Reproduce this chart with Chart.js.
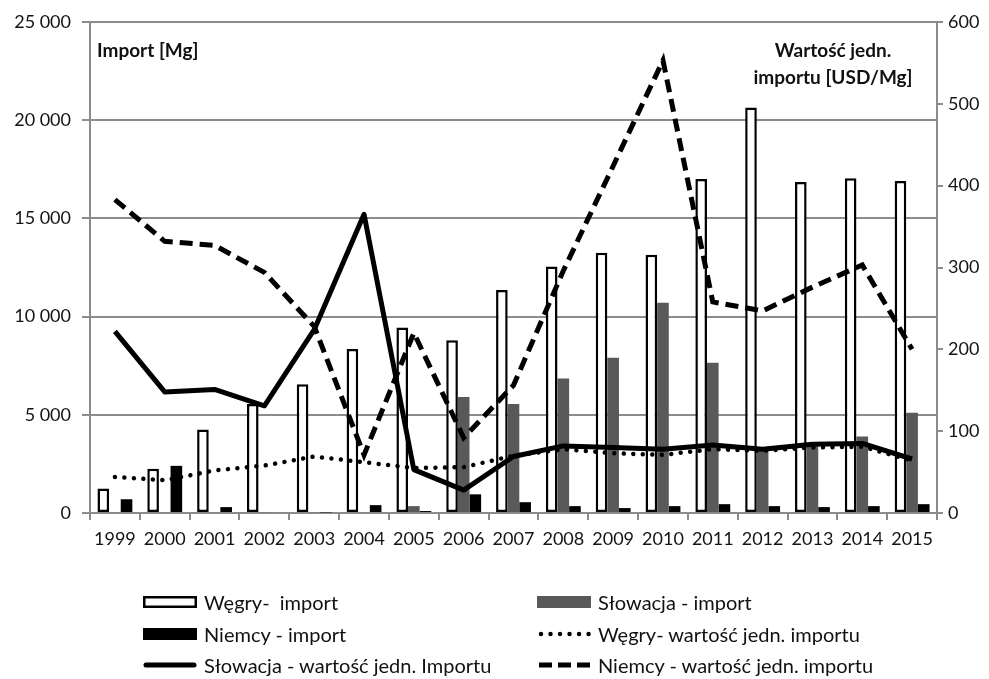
<!DOCTYPE html>
<html>
<head>
<meta charset="utf-8">
<script src="https://cdn.jsdelivr.net/npm/chart.js@4.4.1/dist/chart.umd.min.js"></script>
<style>
  html, body { margin: 0; padding: 0; background: #fff; }
  #wrap { position: relative; width: 989px; height: 679px; font-family: Lato, "Liberation Sans", sans-serif; color: #111; overflow: hidden; }
  #c { position: absolute; left: 0; top: 0; }
  .ttl { position: absolute; font-weight: bold; font-size: 19px; line-height: 27px; white-space: nowrap; }
  .leg { position: absolute; display: flex; align-items: center; font-size: 20px; white-space: pre; height: 26px; line-height: 26px; }
  .leg svg { margin-right: 7px; flex: none; }
</style>
</head>
<body>
<div id="wrap">
  <canvas id="c" width="989" height="679"></canvas>
  <div class="ttl" style="left:97px; top:36px;">Import [Mg]</div>
  <div class="ttl" style="left:733px; top:36px; width:200px; text-align:center;">Wartość jedn.<br>importu [USD/Mg]</div>
  <div id="legend"></div>
</div>
<script>
const years = ['1999','2000','2001','2002','2003','2004','2005','2006','2007','2008','2009','2010','2011','2012','2013','2014','2015'];
const wegryImport    = [1250, 2250, 4250, 5550, 6550, 8350, 9450, 8800, 11350, 12550, 13250, 13150, 17000, 20650, 16850, 17050, 16900];
const slowacjaImport = [0, 0, 0, 40, 40, 0, 350, 5900, 5550, 6850, 7900, 10700, 7650, 3200, 3400, 3900, 5100];
const niemcyImport   = [700, 2400, 300, 0, 30, 400, 100, 950, 550, 350, 250, 350, 450, 350, 300, 350, 450];
const wegryUnit      = [44, 40, 52, 58, 69, 62, 55, 56, 70, 78, 73, 71, 78, 76, 80, 81, 64];
const slowacjaUnit   = [222, 148, 151, 131, 224, 365, 53, 28, 69, 82, 80, 78, 83, 78, 84, 85, 66];
const niemcyUnit     = [383, 332, 327, 294, 228, 71, 220, 92, 156, 296, 424, 553, 258, 247, 276, 303, 200];
const leftTicks  = [0, 5000, 10000, 15000, 20000, 25000];
const rightTicks = [0, 100, 200, 300, 400, 500, 600];

const seriesNames = {
  wI: 'Węgry-  import', sI: 'Słowacja - import', nI: 'Niemcy - import',
  wU: 'Węgry- wartość jedn. importu', sU: 'Słowacja - wartość jedn. Importu', nU: 'Niemcy - wartość jedn. importu'
};

const GRID = '#8c8c8c';
const TXT = '#141414';
const fmt = v => String(v).replace(/\B(?=(\d{3})+(?!\d))/g, ' ');

const bgPlugin = {
  id: 'bg',
  beforeDraw(chart) {
    const ctx = chart.ctx;
    ctx.save(); ctx.fillStyle = '#fff'; ctx.fillRect(0, 0, chart.width, chart.height); ctx.restore();
  }
};

new Chart(document.getElementById('c'), {
  type: 'bar',
  data: {
    labels: years,
    datasets: [
      { type: 'line', label: seriesNames.wU, data: wegryUnit, yAxisID: 'y2', borderColor: '#000', borderWidth: 4.5,
        borderDash: [0.01, 9.5], borderCapStyle: 'round', pointRadius: 0, tension: 0, order: 1 },
      { type: 'line', label: seriesNames.sU, data: slowacjaUnit, yAxisID: 'y2', borderColor: '#000', borderWidth: 5,
        borderJoinStyle: 'round', pointRadius: 0, tension: 0, order: 1 },
      { type: 'line', label: seriesNames.nU, data: niemcyUnit, yAxisID: 'y2', borderColor: '#000', borderWidth: 5,
        borderDash: [13, 7], borderCapStyle: 'butt', pointRadius: 0, tension: 0, order: 1 },
      { label: seriesNames.wI, data: wegryImport, yAxisID: 'y', backgroundColor: '#fff', borderColor: '#000', borderWidth: 2.5,
        borderSkipped: false, categoryPercentage: 0.7, barPercentage: 1, order: 2 },
      { label: seriesNames.sI, data: slowacjaImport, yAxisID: 'y', backgroundColor: '#595959', borderWidth: 0,
        categoryPercentage: 0.7, barPercentage: 1, order: 2 },
      { label: seriesNames.nI, data: niemcyImport, yAxisID: 'y', backgroundColor: '#000', borderWidth: 0,
        categoryPercentage: 0.7, barPercentage: 1, order: 2 }
    ]
  },
  options: {
    responsive: false,
    animation: false,
    devicePixelRatio: 1,
    layout: { padding: { top: 22, left: 0, right: 0, bottom: 0 } },
    plugins: { legend: { display: false }, tooltip: { enabled: false }, title: { display: false } },
    scales: {
      x: {
        offset: true,
        grid: { display: true, drawOnChartArea: false, drawTicks: true, tickLength: 7, color: GRID, lineWidth: 2, offset: true },
        border: { display: true, color: GRID, width: 2 },
        ticks: { color: TXT, font: { family: 'Lato', size: 18 }, padding: 8, maxRotation: 0, autoSkip: false },
        afterFit(scale) { scale.height = 166; }
      },
      y: {
        position: 'left', min: 0, max: 25000,
        afterBuildTicks(scale) { scale.ticks = leftTicks.map(v => ({ value: v })); },
        grid: { color: GRID, lineWidth: 2, drawTicks: true, tickLength: 8 },
        border: { display: true, color: GRID, width: 2 },
        ticks: { color: TXT, font: { family: 'Lato', size: 18 }, padding: 11, callback: v => fmt(v) },
        afterFit(scale) { scale.width = 90; }
      },
      y2: {
        position: 'right', min: 0, max: 600,
        afterBuildTicks(scale) { scale.ticks = rightTicks.map(v => ({ value: v })); },
        grid: { drawOnChartArea: false, color: GRID, lineWidth: 2, drawTicks: true, tickLength: 6 },
        border: { display: true, color: GRID, width: 2 },
        ticks: { color: TXT, font: { family: 'Lato', size: 18 }, padding: 5 },
        afterFit(scale) { scale.width = 52; }
      }
    }
  },
  plugins: [bgPlugin]
});

// HTML legend
const legendItems = [
  { name: seriesNames.wI, x: 143, y: 602, sw: '<rect x="1.25" y="1.25" width="51.5" height="9.5" fill="#fff" stroke="#000" stroke-width="2.5"/>' },
  { name: seriesNames.sI, x: 537, y: 602, sw: '<rect x="0" y="0" width="54" height="12" fill="#595959"/>' },
  { name: seriesNames.nI, x: 143, y: 634, sw: '<rect x="0" y="0" width="54" height="12" fill="#000"/>' },
  { name: seriesNames.wU, x: 537, y: 634, sw: '<line x1="4" y1="6" x2="52" y2="6" stroke="#000" stroke-width="4.5" stroke-linecap="round" stroke-dasharray="0.01 9.5"/>' },
  { name: seriesNames.sU, x: 143, y: 665, sw: '<line x1="3" y1="6" x2="51" y2="6" stroke="#000" stroke-width="5" stroke-linecap="round"/>' },
  { name: seriesNames.nU, x: 537, y: 665, sw: '<line x1="2" y1="6" x2="54" y2="6" stroke="#000" stroke-width="5" stroke-dasharray="13 6"/>' }
];
const lg = document.getElementById('legend');
legendItems.forEach(it => {
  const d = document.createElement('div');
  d.className = 'leg';
  d.style.left = it.x + 'px';
  d.style.top = (it.y - 13) + 'px';
  d.innerHTML = '<svg width="54" height="12" viewBox="0 0 54 12">' + it.sw + '</svg><span></span>';
  d.querySelector('span').textContent = it.name;
  lg.appendChild(d);
});
</script>
</body>
</html>
